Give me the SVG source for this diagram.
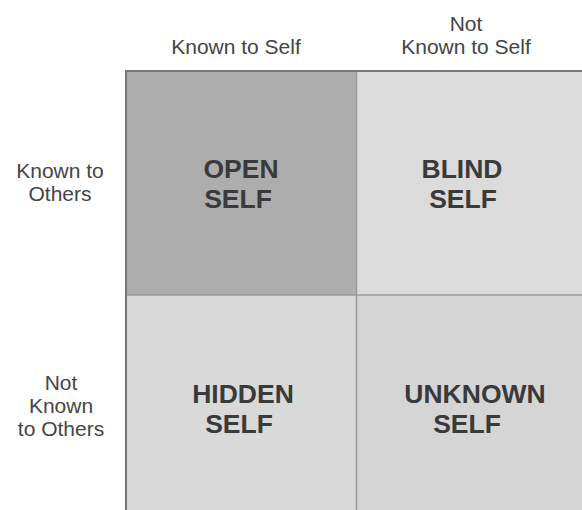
<svg xmlns="http://www.w3.org/2000/svg" width="582" height="510" viewBox="0 0 582 510">
<style>
.hdr{font-family:"Liberation Sans",Arial,sans-serif;font-size:21px;fill:#454545;text-anchor:middle}
.lbl{font-family:"Liberation Sans",Arial,sans-serif;font-size:26.5px;font-weight:bold;fill:#3a3a3a;text-anchor:middle}
.div{stroke:#9a9a9a;stroke-width:1.5;fill:none}
.edge{stroke:#757575;stroke-width:2;fill:none}
</style>
<rect width="582" height="510" fill="#ffffff"/>
<g id="header-known-self"><text class="hdr" x="236" y="54">Known to Self</text></g>
<g id="header-not-known-self"><text class="hdr" x="466" y="31">Not</text><text class="hdr" x="466" y="54">Known to Self</text></g>
<g id="row-known-others"><text class="hdr" x="60" y="178">Known to</text><text class="hdr" x="60" y="201">Others</text></g>
<g id="row-not-known-others"><text class="hdr" x="61" y="390">Not</text><text class="hdr" x="61" y="413">Known</text><text class="hdr" x="61" y="436">to Others</text></g>
<g id="open-self"><rect x="125" y="71" width="231.5" height="224" fill="#adadad"/><text class="lbl" x="241" y="178">OPEN</text><text class="lbl" x="238" y="207.5">SELF</text></g>
<g id="blind-self"><rect x="356.5" y="71" width="225.5" height="224" fill="#dbdbdb"/><text class="lbl" x="462" y="178">BLIND</text><text class="lbl" x="463" y="207.5">SELF</text></g>
<g id="hidden-self"><rect x="125" y="295" width="231.5" height="215" fill="#d9d9d9"/><text class="lbl" x="243" y="402.5">HIDDEN</text><text class="lbl" x="239" y="432.5">SELF</text></g>
<g id="unknown-self"><rect x="356.5" y="295" width="225.5" height="215" fill="#d5d5d5"/><text class="lbl" x="475" y="402.5">UNKNOWN</text><text class="lbl" x="467" y="432.5">SELF</text></g>
<g id="connectors">
<line class="div" x1="356.5" y1="71" x2="356.5" y2="510"/>
<line class="div" x1="125" y1="295" x2="582" y2="295"/>
<line class="edge" x1="125" y1="71" x2="582" y2="71"/>
<line class="edge" x1="126" y1="70" x2="126" y2="510"/>
</g>
</svg>
